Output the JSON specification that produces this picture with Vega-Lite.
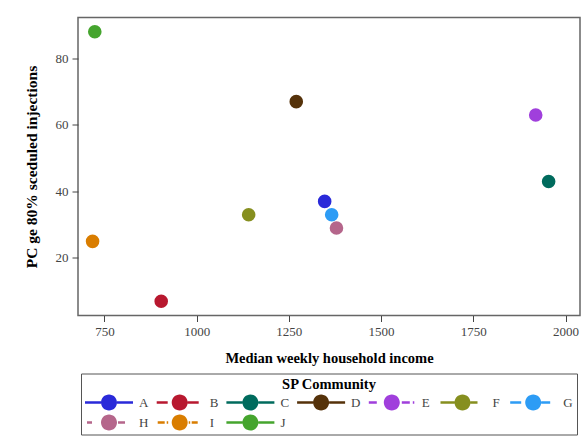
{
  "$schema": "https://vega.github.io/schema/vega-lite/v6.json",
  "autosize": {"type": "none"},
  "width": 502,
  "height": 298,
  "padding": {"left": 78, "top": 17.5, "right": 5, "bottom": 124.5},
  "background": "white",
  "config": {
    "font": "Liberation Serif",
    "view": {"stroke": "#666666", "strokeWidth": 1.5},
    "axis": {
      "domain": false,
      "grid": false,
      "tickColor": "#444444",
      "tickSize": 6,
      "labelFont": "Liberation Serif",
      "labelFontSize": 13,
      "labelColor": "#444444",
      "titleFont": "Liberation Serif",
      "titleFontWeight": "bold",
      "titleColor": "#000000"
    }
  },
  "data": {
    "values": [
      {"community": "A", "income": 1347, "pc": 37},
      {"community": "B", "income": 904, "pc": 7},
      {"community": "C", "income": 1954, "pc": 43},
      {"community": "D", "income": 1270, "pc": 67},
      {"community": "E", "income": 1919, "pc": 63},
      {"community": "F", "income": 1141, "pc": 33},
      {"community": "G", "income": 1366, "pc": 33},
      {"community": "H", "income": 1379, "pc": 29},
      {"community": "I", "income": 718, "pc": 25},
      {"community": "J", "income": 724, "pc": 88}
    ]
  },
  "mark": {"type": "point", "filled": true, "opacity": 1, "size": 185},
  "encoding": {
    "x": {
      "field": "income",
      "type": "quantitative",
      "title": "Median weekly household income",
      "scale": {"domain": [678.5, 2039], "nice": false, "zero": false},
      "axis": {"values": [750, 1000, 1250, 1500, 1750, 2000], "format": "d", "labelPadding": 4, "titlePadding": 13, "titleFontSize": 14.5}
    },
    "y": {
      "field": "pc",
      "type": "quantitative",
      "title": "PC ge 80% sceduled injections",
      "scale": {"domain": [2.7, 92.3], "nice": false, "zero": false},
      "axis": {"values": [20, 40, 60, 80], "format": "d", "labelPadding": 4, "titlePadding": 16, "titleFontSize": 15.5}
    },
    "color": {
      "field": "community",
      "type": "nominal",
      "scale": {
        "domain": ["A", "B", "C", "D", "E", "F", "G", "H", "I", "J"],
        "range": ["#2a2ad9", "#b8182f", "#006b5d", "#55320a", "#a03fdc", "#868f1f", "#2d9cf5", "#b5668b", "#d97d00", "#45a52e"]
      },
      "legend": {
        "title": "SP Community",
        "orient": "none",
        "legendX": 3,
        "legendY": 356,
        "direction": "horizontal",
        "columns": 7,
        "gridAlign": "all",
        "columnPadding": 6.7,
        "rowPadding": 4,
        "padding": 4,
        "strokeColor": "#555555",
        "fillColor": "white",
        "titleFont": "Liberation Serif",
        "titleFontSize": 14.5,
        "titleFontWeight": "bold",
        "titleColor": "#000000",
        "titleAnchor": "middle",
        "titlePadding": 2.5,
        "labelFont": "Liberation Serif",
        "labelFontSize": 13,
        "labelColor": "#444444",
        "labelOffset": 38,
        "symbolSize": 256,
        "symbolStrokeWidth": 0,
        "symbolOpacity": 1,
        "encode": {
          "symbols": {
            "update": {
              "shape": {
                "signal": "datum.value === 'B' ? 'M-0.875,-0.16H0.5V0.16H-0.875Z M3,-0.16H4.375V0.16H3Z M3,0A1,1 0 1 0 1,0A1,1 0 1 0 3,0Z' : datum.value === 'E' ? 'M-0.875,-0.16H0.125V0.16H-0.875Z M3.25,-0.16H4.25V0.16H3.25Z M4.625,-0.16H4.8125V0.16H4.625Z M3,0A1,1 0 1 0 1,0A1,1 0 1 0 3,0Z' : datum.value === 'F' ? 'M-0.75,-0.16H1V0.16H-0.75Z M3,-0.16H3.875V0.16H3Z M3,0A1,1 0 1 0 1,0A1,1 0 1 0 3,0Z' : datum.value === 'G' ? 'M-0.875,-0.16H0.5V0.16H-0.875Z M3,-0.16H4.125V0.16H3Z M3,0A1,1 0 1 0 1,0A1,1 0 1 0 3,0Z' : datum.value === 'H' ? 'M-0.75,-0.16H-0.125V0.16H-0.75Z M3.125,-0.16H4V0.16H3.125Z M3,0A1,1 0 1 0 1,0A1,1 0 1 0 3,0Z' : datum.value === 'I' ? 'M-0.75,-0.16H0.125V0.16H-0.75Z M0.375,-0.16H0.5625V0.16H0.375Z M3.125,-0.16H3.3125V0.16H3.125Z M3.5,-0.16H4.25V0.16H3.5Z M3,0A1,1 0 1 0 1,0A1,1 0 1 0 3,0Z' : 'M-1,-0.16H1V0.16H-1Z M3,-0.16H5V0.16H3Z M3,0A1,1 0 1 0 1,0A1,1 0 1 0 3,0Z'"
              }
            }
          }
        }
      }
    }
  }
}
